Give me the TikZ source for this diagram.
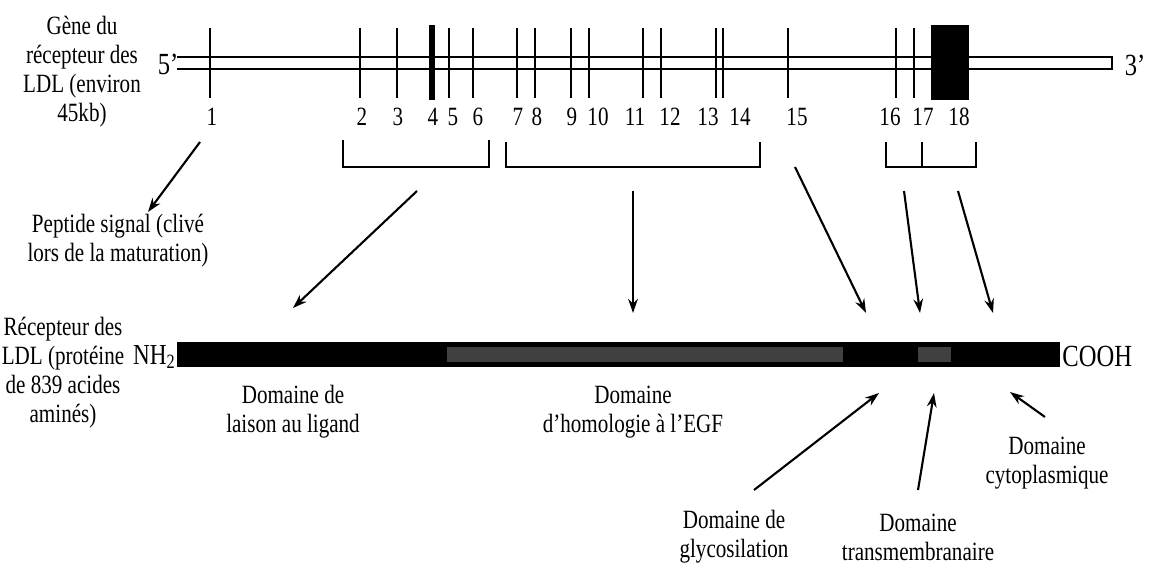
\documentclass[tikz,border=0pt]{standalone}
\usepackage{fontspec}
\setmainfont{Liberation Serif}[FakeStretch=0.8]
\usepackage{tikz}
\usetikzlibrary{arrows.meta}
\definecolor{greyseg}{RGB}{64,64,64}

\begin{document}
\begin{tikzpicture}[x=0.02cm,y=-0.02cm,
    every node/.style={font=\fontsize{15}{16.5}\selectfont,inner sep=0pt,align=center},
    bigtxt/.style={font=\fontsize{17.5}{19}\selectfont},
    gline/.style={line width=1.2pt},
    arr/.style={line width=1.2pt,-{Stealth[length=8pt,width=5.5pt]}}]

    \useasboundingbox (0,0) rectangle (1151,567);

    % gene (double line, exons)
    \draw[gline] (177,57) -- (1112,57) -- (1112,69) -- (177,69);
    \foreach \x/\n/\lx in {210/1/212,360/2/362,397/3/398,449/5/453,473/6/478,
        517/7/518,535/8/537,571/9/572,589/10/598,643/11/635,661/12/670,
        716/13/708,723/14/740,788/15/797,896/16/890,914/17/923} {
        \draw[gline] (\x,28) -- (\x,98);
        \node (ex\n) at (\lx,117) {\n};
    }
    \fill (429,25) rectangle (435,100);
    \node (ex4) at (433,117) {4};
    \fill (931,25) rectangle (969,100);
    \node (ex18) at (959,117) {18};

    \node (gene) at (82,72) {Gène du\\récepteur des\\LDL (environ\\45kb)};
    \node[bigtxt] (end5) at (168,64) {5'};
    \node[bigtxt] (end3) at (1135,65) {3'};

    % brackets
    \draw[gline] (343,140) -- (343,167) -- (489,167) -- (489,140);
    \draw[gline] (506,142) -- (506,167) -- (760,167) -- (760,142);
    \draw[gline] (886,142) -- (886,167) -- (976,167) -- (976,142);
    \draw[gline] (922,142) -- (922,167);

    \node (signal) at (118,241) {Peptide signal (clivé\\lors de la maturation)};

    % protein
    \fill (177,342) rectangle (1060,367);
    \fill[greyseg] (447,347) rectangle (843,362);
    \fill[greyseg] (918,347) rectangle (951,362);
    \node[font=\fontsize{16.5}{18}\selectfont,anchor=east] (nterm) at (176,357) {NH\textsubscript{2}};
    \node[bigtxt,anchor=west] (cterm) at (1062,356) {COOH};

    \node (recep) at (63,373) {Récepteur des\\LDL (protéine\\de 839 acides\\aminés)};
    \node (ligand) at (293,412) {Domaine de\\laison au ligand};
    \node (egf) at (633,412) {Domaine\\d'homologie à l'EGF};
    \node (cyto) at (1047,463) {Domaine\\cytoplasmique};
    \node (glyco) at (734,537) {Domaine de\\glycosilation};
    \node (tmem) at (918,537) {Domaine\\transmembranaire};

    % arrows
    \foreach \ax/\ay/\bx/\by [count=\i] in {200/142/148/212, 417/191/293/308,
        633/191/633/313, 795/167/866/313, 904/191/920/313, 958/191/993/313,
        754/490/879/393, 918/490/934/393, 1045/417/1010/392} {
        \coordinate (from\i) at (\ax,\ay);
        \coordinate (to\i) at (\bx,\by);
        \draw[arr] (from\i) -- (to\i);
    }
\end{tikzpicture}
\end{document}
